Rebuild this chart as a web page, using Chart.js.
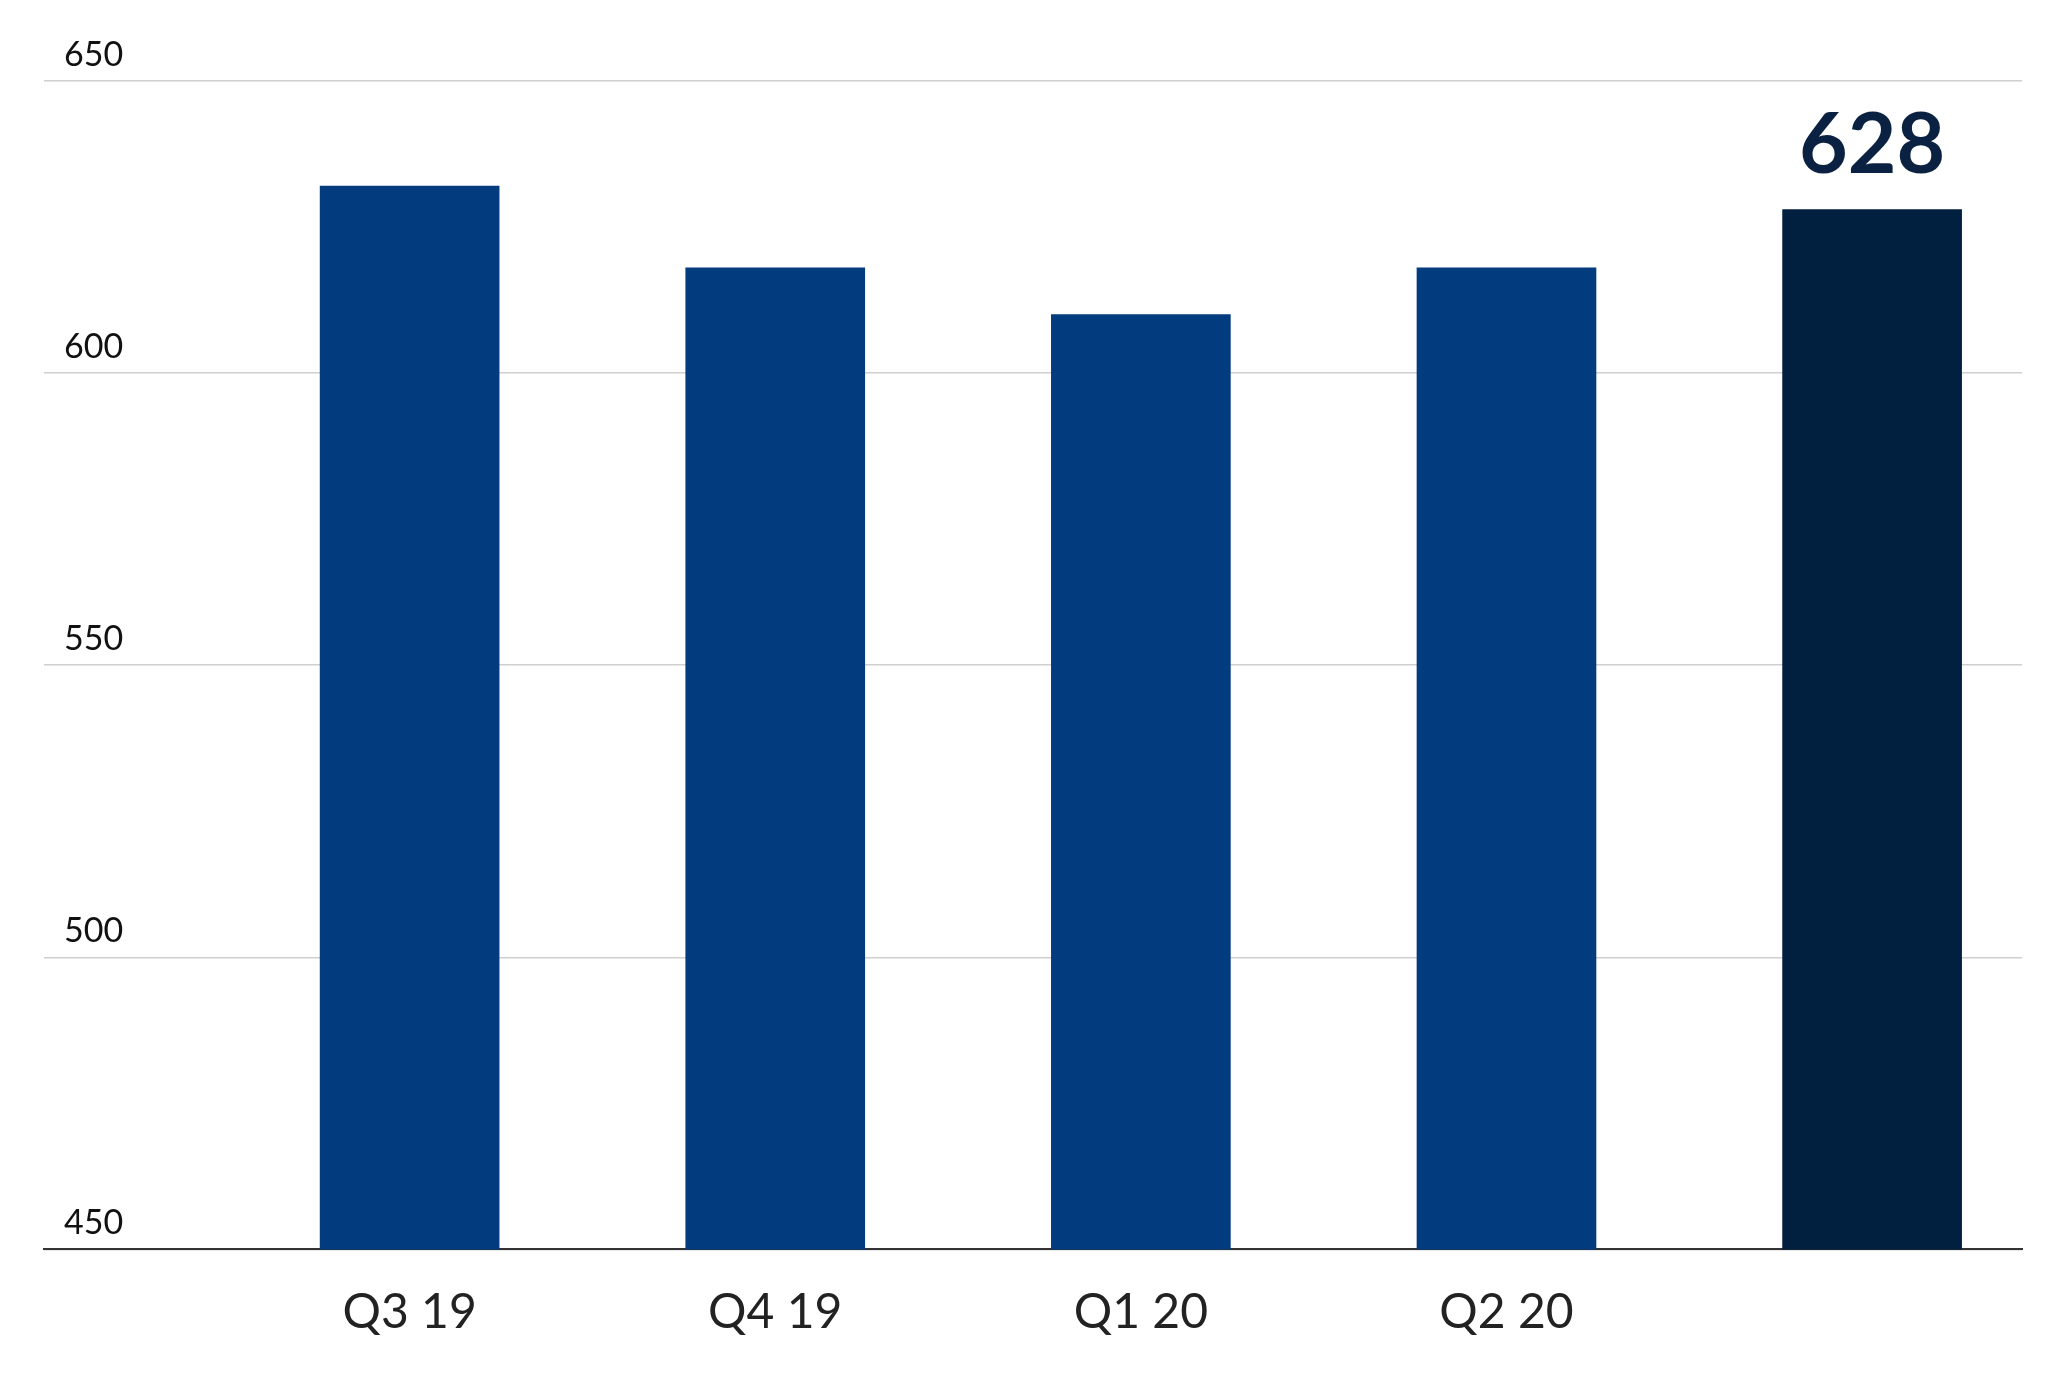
<!DOCTYPE html>
<html>
<head>
<meta charset="utf-8">
<script src="https://cdn.jsdelivr.net/npm/chart.js@4"></script>
<style>
  body { margin: 0; background: #fff; }
  #chart { display: block; }
</style>
</head>
<body>
<canvas id="chart" width="2048" height="1377"></canvas>
<script>
// data
const quarters = ['Q3 19', 'Q4 19', 'Q1 20', 'Q2 20', 'Q3 20'];
const values = [632, 618, 610, 618, 628];
const barColors = ['#023b7e', '#023b7e', '#023b7e', '#023b7e', '#011f3f'];
const yTicks = [450, 500, 550, 600, 650];
const highlightIndex = 4;

// label above the highlighted bar
const valueLabel = {
  id: 'valueLabel',
  afterDatasetsDraw(chart) {
    const bar = chart.getDatasetMeta(0).data[highlightIndex];
    const ctx = chart.ctx;
    ctx.save();
    ctx.fillStyle = '#0a2142';
    ctx.font = 'bold 84px Lato, sans-serif';
    ctx.textAlign = 'center';
    ctx.textBaseline = 'bottom';
    ctx.fillText(String(values[highlightIndex]), bar.x, bar.y - 22);
    ctx.restore();
  }
};

new Chart(document.getElementById('chart'), {
  type: 'bar',
  data: {
    datasets: [{
      data: values.map((v, i) => ({ x: i + 1, y: v })),
      backgroundColor: barColors,
      barThickness: 179
    }]
  },
  options: {
    responsive: false,
    devicePixelRatio: 1,
    animation: false,
    layout: { padding: { top: 81, left: 4, right: 4, bottom: 10 } },
    plugins: { legend: { display: false }, tooltip: { enabled: false } },
    scales: {
      x: {
        type: 'linear',
        offset: false,
        min: 0,
        max: 5.41,
        grid: { display: false },
        border: { color: '#333', width: 2 },
        ticks: {
          stepSize: 1,
          color: '#222',
          font: { family: 'Lato, sans-serif', size: 48 },
          padding: 26,
          autoSkip: false,
          callback: v => quarters[v - 1] || ''
        }
      },
      y: {
        min: 450,
        max: 650,
        afterBuildTicks: axis => { axis.ticks = yTicks.map(v => ({ value: v })); },
        grid: { color: '#cfcfcf', lineWidth: 1.5, drawTicks: false },
        border: { display: false },
        ticks: {
          mirror: true,
          labelOffset: -26,
          padding: 20,
          color: '#111',
          font: { family: 'Lato, sans-serif', size: 34 }
        }
      }
    }
  },
  plugins: [valueLabel]
});
</script>
</body>
</html>
